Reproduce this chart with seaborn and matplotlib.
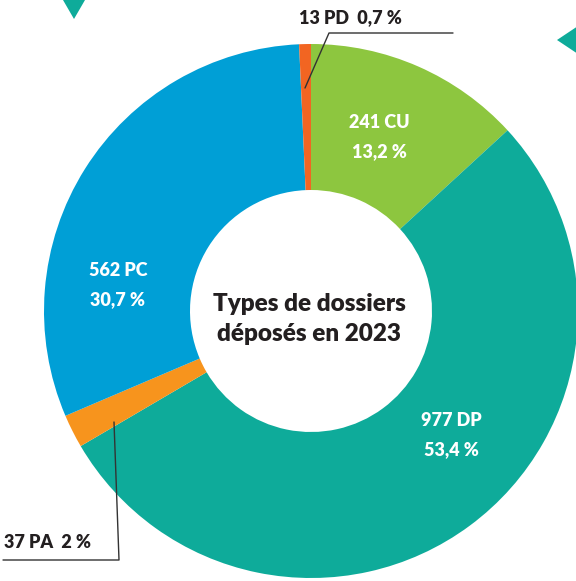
import matplotlib
matplotlib.use("Agg")
import matplotlib.pyplot as plt
import seaborn as sns
from matplotlib.patches import Polygon

sns.set_theme(style="white")
plt.rcParams['font.family'] = ['Lato', 'DejaVu Sans']

categories = ["CU", "DP", "PA", "PC", "PD"]
counts = [241, 977, 37, 562, 13]
percents = ["13,2 %", "53,4 %", "2 %", "30,7 %", "0,7 %"]
colors = ["#8DC63F", "#0EAB9A", "#F7941D", "#009FD6", "#F26522"]
center_title = "Types de dossiers\ndéposés en 2023"

W, H = 576, 581
fig = plt.figure(figsize=(W / 100, H / 100), dpi=100)
ax = fig.add_axes([0, 0, 1, 1])
ax.set_xlim(0, W)
ax.set_ylim(0, H)
ax.axis("off")

def Y(y):
    return H - y

cx, cy, R = 311, Y(311), 267
wedges, _ = ax.pie(counts, colors=colors, startangle=90, counterclock=False,
                   center=(cx, cy), radius=R,
                   wedgeprops=dict(width=R - 121, linewidth=0))
ax.set_xlim(0, W)
ax.set_ylim(0, H)
ax.set_aspect("equal")

dark = "#231F20"
fs = 13
W8 = "heavy"
inside = {"CU": (379, 123, 152), "DP": (451, 421, 450), "PC": (118, 270, 300)}
for cat, n, p in zip(categories, counts, percents):
    if cat in inside:
        x, y1, y2 = inside[cat]
        ax.text(x, Y(y1), f"{n} {cat}", color="white", fontsize=fs, fontweight=W8,
                ha="center", va="center")
        ax.text(x, Y(y2), p, color="white", fontsize=fs, fontweight=W8,
                ha="center", va="center")

i_pd = categories.index("PD")
ax.plot([305, 329, 453], [Y(88), Y(33), Y(33)], color="#333333", lw=1)
ax.text(299, Y(18), f"{counts[i_pd]} PD  {percents[i_pd]}", color=dark, fontsize=fs,
        fontweight=W8, ha="left", va="center")

i_pa = categories.index("PA")
ax.plot([114, 119, 3], [Y(422), Y(560), Y(560)], color="#333333", lw=1)
ax.text(4, Y(543), f"{counts[i_pa]} PA  {percents[i_pa]}", color=dark, fontsize=fs,
        fontweight=W8, ha="left", va="center")

ax.text(309, Y(319), center_title, color=dark, fontsize=17.5, fontweight=W8,
        ha="center", va="center", linespacing=1.45)

ax.add_patch(Polygon([(63, Y(0)), (85, Y(0)), (74, Y(19))], closed=True,
                     color="#0EAB9A", lw=0))
ax.add_patch(Polygon([(557, Y(40)), (578, Y(26)), (578, Y(54))], closed=True,
                     color="#0EAB9A", lw=0))

fig.savefig("out.png", dpi=100)
